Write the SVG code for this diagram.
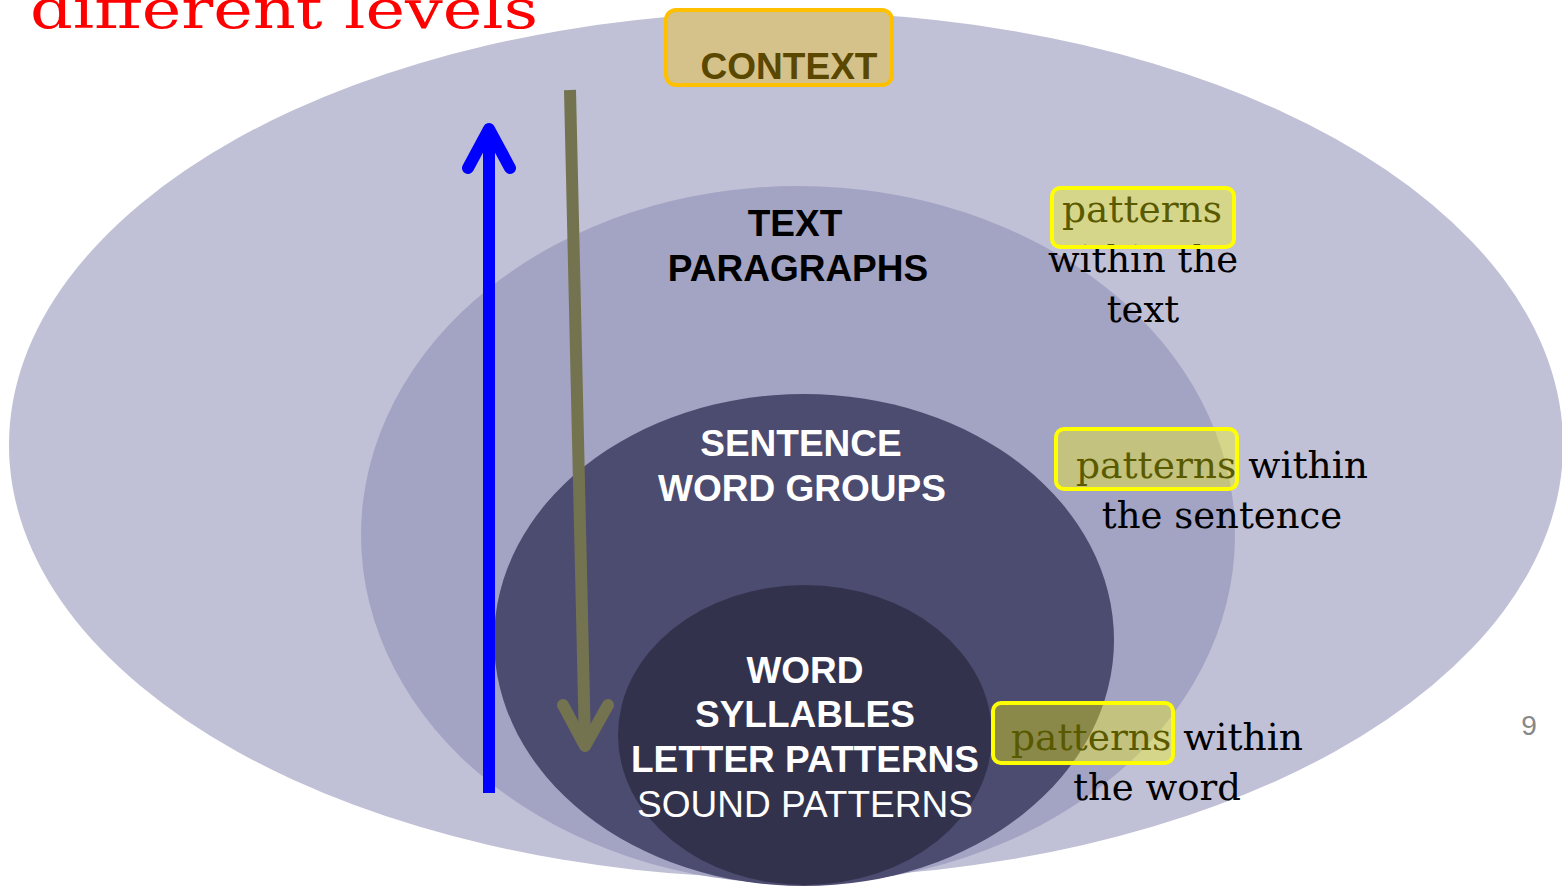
<svg xmlns="http://www.w3.org/2000/svg" width="1562" height="891" viewBox="0 0 1562 891">
<style>
.lvl{font-family:"Liberation Sans",Arial,sans-serif;font-weight:bold;font-size:37px;fill:#000;text-anchor:middle}
.w{fill:#fff}
.reg{font-weight:normal}
.ser{font-family:"DejaVu Serif","Liberation Serif",serif;font-size:37px;fill:#000}
.pbox{fill:#ffff00;fill-opacity:0.35;stroke:#ffff00;stroke-width:4}
</style>
<rect width="1562" height="891" fill="#fff"/>
<g id="ellipse-context"><ellipse cx="786" cy="445" rx="777" ry="433" fill="#c0c0d6"/></g>
<g id="ellipse-text"><ellipse cx="798" cy="535" rx="437" ry="349" fill="#a3a3c3"/></g>
<g id="ellipse-sentence"><ellipse cx="804" cy="640" rx="310" ry="246" fill="#4c4b70"/></g>
<g id="ellipse-word"><ellipse cx="805" cy="735" rx="187" ry="150" fill="#33324c"/></g>

<g id="title"><text x="30" y="28" font-family="DejaVu Serif, Liberation Serif, serif" font-size="54" fill="#ff0000" textLength="508" lengthAdjust="spacingAndGlyphs">different levels</text></g>

<g id="connectors" fill="none" stroke-linecap="round" stroke-linejoin="round">
<line x1="489" y1="793" x2="489" y2="130" stroke="#0000ff" stroke-width="12" stroke-linecap="butt"/>
<polyline points="468,168 489,129 510,168" stroke="#0000ff" stroke-width="12"/>
<line x1="570" y1="90" x2="585" y2="745" stroke="#737350" stroke-width="12" stroke-linecap="butt"/>
<polyline points="563,705 585,746 608,705" stroke="#737350" stroke-width="12"/>
</g>

<g id="node-context">
<rect x="666" y="10" width="226" height="75" rx="10" fill="#d5c18a" stroke="#ffc000" stroke-width="4"/>
<text x="789" y="79" class="lvl" style="fill:#5a4700" textLength="177" lengthAdjust="spacingAndGlyphs">CONTEXT</text>
</g>

<g id="node-text">
<text x="795" y="236" class="lvl">TEXT</text>
<text x="798" y="281" class="lvl">PARAGRAPHS</text>
</g>
<g id="node-sentence">
<text x="801" y="456" class="lvl w">SENTENCE</text>
<text x="802" y="501" class="lvl w">WORD GROUPS</text>
</g>
<g id="node-word">
<text x="805" y="683" class="lvl w">WORD</text>
<text x="805" y="727" class="lvl w">SYLLABLES</text>
<text x="805" y="772" class="lvl w">LETTER PATTERNS</text>
<text x="805" y="817" class="lvl w reg">SOUND PATTERNS</text>
</g>

<g id="label-text">
<text x="1062" y="222" class="ser" textLength="160" lengthAdjust="spacingAndGlyphs">patterns</text>
<text x="1143" y="272" class="ser" text-anchor="middle">within the</text>
<text x="1143" y="322" class="ser" text-anchor="middle">text</text>
<rect x="1052" y="188" width="182" height="59" rx="8" class="pbox"/>
</g>
<g id="label-sentence">
<text x="1076" y="478" class="ser" textLength="292" lengthAdjust="spacingAndGlyphs">patterns within</text>
<text x="1222" y="528" class="ser" text-anchor="middle">the sentence</text>
<rect x="1056" y="429" width="181" height="60" rx="8" class="pbox"/>
</g>
<g id="label-word">
<text x="1011" y="750" class="ser" textLength="292" lengthAdjust="spacingAndGlyphs">patterns within</text>
<text x="1157" y="800" class="ser" text-anchor="middle">the word</text>
<rect x="993" y="703" width="180" height="60" rx="8" class="pbox"/>
</g>

<g id="page-number"><text x="1529" y="735" font-family="Liberation Sans, Arial, sans-serif" font-size="28" fill="#888" text-anchor="middle">9</text></g>
</svg>
